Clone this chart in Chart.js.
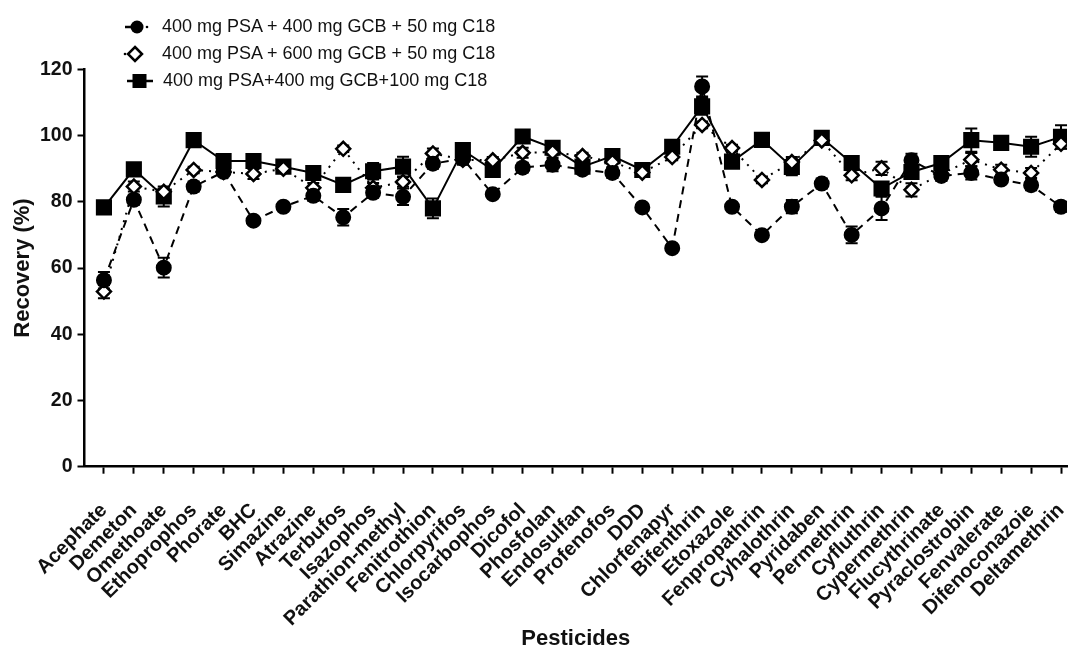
<!DOCTYPE html>
<html>
<head>
<meta charset="utf-8">
<script src="https://cdn.jsdelivr.net/npm/chart.js@4.4.1/dist/chart.umd.min.js"></script>
<style>
  html, body { margin: 0; background: #fff; overflow: hidden; }
  /* a little wider than the window: Chart.js keeps some right padding for the rotated labels */
  #wrap { position: relative; width: 1079px; height: 650px; font-family: "Liberation Sans", Arial, sans-serif; }
  #legend { position: absolute; left: 120px; top: 13px; }
  .row { display: flex; align-items: center; height: 27px; font-size: 18px; color: #111; }
  .row svg { width: 40px; height: 22px; margin-right: 2px; }
</style>
</head>
<body>
<div id="wrap">
  <canvas id="chart"></canvas>
  <div id="legend">
    <div class="row">
      <svg viewBox="0 0 40 22"><line x1="5" y1="11" x2="11" y2="11" stroke="#000" stroke-width="2.5"/><circle cx="17" cy="11" r="6.5" fill="#000"/><circle cx="27" cy="11" r="1.3" fill="#000"/></svg>
      <span>400 mg PSA + 400 mg GCB + 50 mg C18</span>
    </div>
    <div class="row">
      <svg viewBox="0 0 40 22"><circle cx="5" cy="11" r="1.3" fill="#000"/><path d="M15 4 L22 11 L15 18 L8 11 Z" fill="#fff" stroke="#000" stroke-width="2.5"/></svg>
      <span>400 mg PSA + 600 mg GCB + 50 mg C18</span>
    </div>
    <div class="row">
      <svg viewBox="0 0 40 22"><line x1="7" y1="11" x2="33" y2="11" stroke="#000" stroke-width="2.5"/><rect x="12.5" y="4" width="14" height="14" fill="#000"/></svg>
      <span style="margin-left:1px">400 mg PSA+400 mg GCB+100 mg C18</span>
    </div>
  </div>
</div>
<script>
const pesticides = ['Acephate', 'Demeton', 'Omethoate', 'Ethoprophos', 'Phorate', 'BHC', 'Simazine',
  'Atrazine', 'Terbufos', 'Isazophos', 'Parathion-methyl', 'Fenitrothion', 'Chlorpyrifos',
  'Isocarbophos', 'Dicofol', 'Phosfolan', 'Endosulfan', 'Profenofos', 'DDD', 'Chlorfenapyr',
  'Bifenthrin', 'Etoxazole', 'Fenpropathrin', 'Cyhalothrin', 'Pyridaben', 'Permethrin',
  'Cyfluthrin', 'Cypermethrin', 'Flucythrinate', 'Pyraclostrobin', 'Fenvalerate',
  'Difenoconazoie', 'Deltamethrin'];

// 400 mg PSA + 400 mg GCB + 50 mg C18
const gcb400 = [56.3, 80.6, 60.1, 84.6, 89.0, 74.3, 78.5, 81.8, 75.3, 82.7, 81.5, 91.5, 93.0,
  82.3, 90.3, 91.2, 89.7, 88.7, 78.3, 66.0, 114.8, 78.5, 69.9, 78.5, 85.5, 70.0, 78.0, 92.5,
  87.8, 88.7, 86.7, 85.0, 78.5];
const gcb400Sd = [2.5, 1.5, 3, 1.5, 1, 1, 1, 1.5, 2.5, 1.5, 2.5, 1.5, 1.5, 1, 1.5, 2, 1, 1.5,
  1, 0.5, 3, 1, 1, 2, 1.5, 2.5, 3.5, 2, 1.5, 2, 1, 1.5, 1.5];

// 400 mg PSA + 600 mg GCB + 50 mg C18
const gcb600 = [52.9, 84.6, 83.0, 89.6, 89.0, 88.4, 90.0, 84.2, 96.0, 84.2, 86.0, 94.6, 92.7,
  92.5, 94.8, 95.0, 93.8, 92.0, 88.8, 93.5, 103.2, 96.2, 86.6, 92.0, 98.5, 88.0, 90.1, 83.6,
  88.4, 92.7, 89.7, 88.7, 97.5];
const gcb600Sd = [2, 1.5, 1, 1, 1, 1.5, 1, 1.5, 1, 1.5, 1.5, 1.5, 1.5, 1, 1.5, 1, 1, 1.5, 1,
  1, 1, 1, 1, 1.5, 1, 1.5, 2, 2, 1.5, 2, 1.5, 1.5, 1.5];

// 400 mg PSA + 400 mg GCB + 100 mg C18
const c18100 = [78.3, 89.8, 81.6, 98.6, 92.3, 92.3, 90.6, 88.7, 85.1, 89.2, 90.6, 78.0, 95.6,
  89.6, 99.7, 96.3, 90.6, 93.8, 89.6, 96.6, 108.8, 92.1, 98.7, 90.5, 99.3, 91.7, 84.0, 89.0,
  91.7, 98.6, 97.8, 96.6, 99.6];
const c18100Sd = [1, 1, 3, 1, 1, 1.5, 1, 1, 2, 2.5, 3, 3, 1, 1.5, 1.5, 1.5, 1, 2, 1.5, 1, 2.5,
  1.5, 1, 2.5, 1.5, 1.5, 2, 1.5, 2, 3.5, 2, 3, 3.5];

const yTicks = [0, 20, 40, 60, 80, 100, 120];

const pts = arr => arr.map((v, i) => ({ x: i, y: v }));

// draws SD bars under the markers
const errorBars = {
  id: 'errorBars',
  beforeDatasetsDraw(chart) {
    const { ctx, scales: { x, y } } = chart;
    ctx.save();
    ctx.strokeStyle = '#000';
    ctx.lineWidth = 2;
    chart.data.datasets.forEach(ds => {
      ds.data.forEach((p, i) => {
        const e = ds.sd[i];
        const px = x.getPixelForValue(p.x);
        const t = y.getPixelForValue(p.y + e);
        const b = y.getPixelForValue(p.y - e);
        ctx.beginPath();
        ctx.moveTo(px, t); ctx.lineTo(px, b);
        ctx.moveTo(px - 6, t); ctx.lineTo(px + 6, t);
        ctx.moveTo(px - 6, b); ctx.lineTo(px + 6, b);
        ctx.stroke();
      });
    });
    ctx.restore();
  },
};

const tickFont = { family: '"Liberation Sans", Arial, sans-serif', size: 19.5, weight: 'bold' };
const xTickFont = { family: '"Liberation Sans", Arial, sans-serif', size: 20, weight: 'bold' };
const titleFont = { family: '"Liberation Sans", Arial, sans-serif', size: 22, weight: 'bold', lineHeight: 1 };

new Chart(document.getElementById('chart'), {
  type: 'line',
  data: {
    datasets: [
      {
        label: '400 mg PSA + 400 mg GCB + 50 mg C18',
        data: pts(gcb400), sd: gcb400Sd,
        borderColor: '#000', borderWidth: 2, borderDash: [8, 6],
        pointStyle: 'circle', pointRadius: 7, pointBackgroundColor: '#000', pointBorderColor: '#000',
      },
      {
        label: '400 mg PSA + 600 mg GCB + 50 mg C18',
        data: pts(gcb600), sd: gcb600Sd,
        borderColor: '#000', borderWidth: 2, borderDash: [2, 6],
        pointStyle: 'rectRot', pointRadius: 7, pointBorderWidth: 2.5,
        pointBackgroundColor: '#fff', pointBorderColor: '#000',
      },
      {
        label: '400 mg PSA+400 mg GCB+100 mg C18',
        data: pts(c18100), sd: c18100Sd,
        borderColor: '#000', borderWidth: 2,
        pointStyle: 'rect', pointRadius: 10, pointBackgroundColor: '#000', pointBorderColor: '#000',
      },
    ],
  },
  options: {
    responsive: true,
    maintainAspectRatio: false,
    animation: false,
    layout: { padding: { top: 69.3, right: 0, left: 0, bottom: 0 } },
    plugins: { legend: { display: false }, tooltip: { enabled: false } },
    elements: { line: { tension: 0 } },
    scales: {
      x: {
        type: 'linear',
        min: -0.65,
        max: 32.2,
        afterBuildTicks: s => { s.ticks = pesticides.map((_, i) => ({ value: i })); },
        afterFit: s => { s.height = 183.3; s.paddingRight = 0; s.paddingLeft = 0; },
        grid: { drawOnChartArea: false, drawTicks: true, tickLength: 7, tickColor: '#000', tickWidth: 2 },
        border: { display: true, color: '#000', width: 2.5 },
        ticks: {
          autoSkip: false, maxRotation: 45, minRotation: 45, padding: 25,
          color: '#111', font: xTickFont,
          callback: v => pesticides[v],
        },
        title: { display: true, text: 'Pesticides', color: '#111', font: titleFont, padding: { top: 0, bottom: 0 } },
      },
      y: {
        min: 0,
        max: 120,
        afterBuildTicks: s => { s.ticks = yTicks.map(v => ({ value: v })); },
        afterFit: s => { s.width = 84.5; },
        grid: { drawOnChartArea: false, drawTicks: true, tickLength: 7, tickColor: '#000', tickWidth: 2 },
        border: { display: true, color: '#000', width: 2.5 },
        ticks: { padding: 5, color: '#111', font: tickFont },
        title: { display: true, text: 'Recovery (%)', color: '#111', font: titleFont, padding: { top: 12, bottom: 0 } },
      },
    },
  },
  plugins: [errorBars],
});
</script>
</body>
</html>
